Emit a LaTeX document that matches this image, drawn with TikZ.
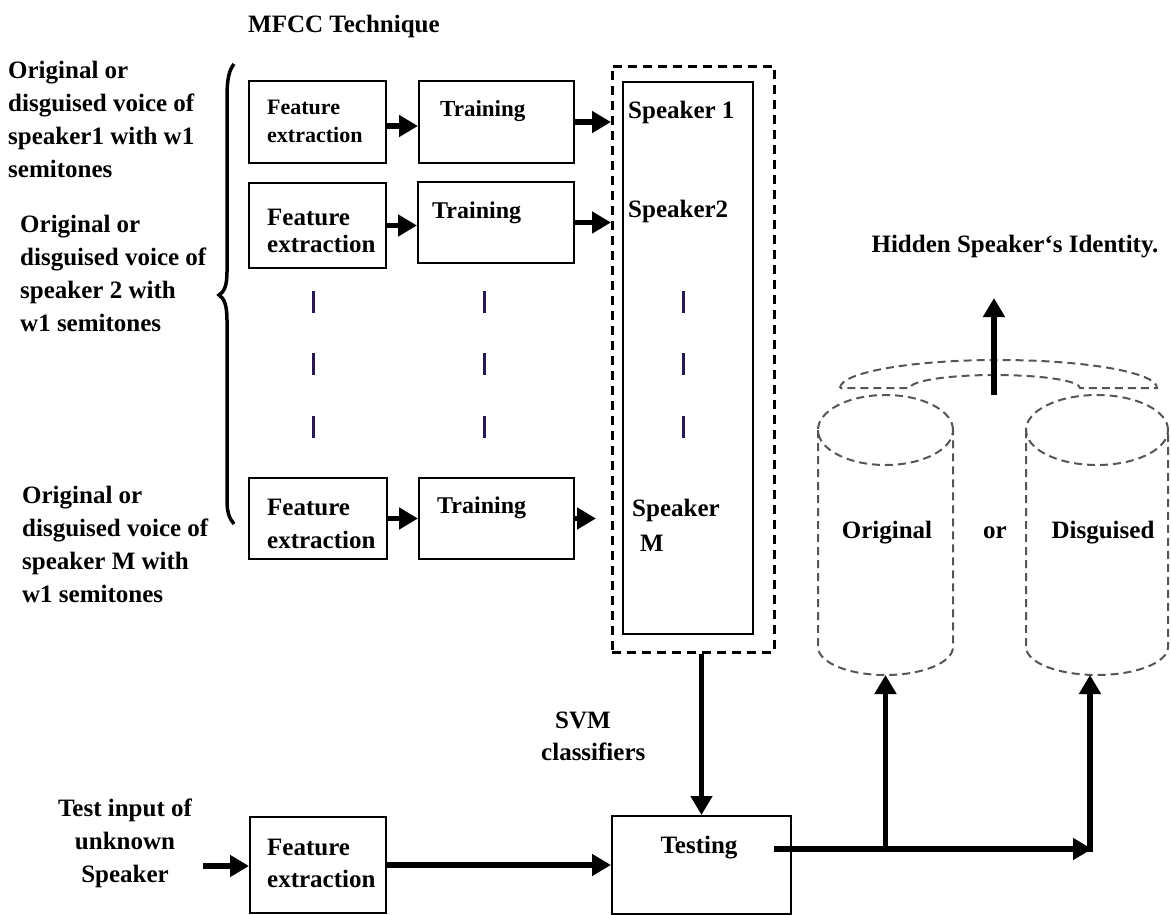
\documentclass[tikz,border=0pt]{standalone}
\usepackage{fontspec}
\setmainfont{Liberation Serif}
\usetikzlibrary{arrows.meta,calc}
\newcommand\myfs[2]{\fontsize{#1}{#2}\selectfont\bfseries}
\definecolor{barc}{RGB}{40,25,80}
\definecolor{cylc}{RGB}{85,85,85}
\begin{document}
\begin{tikzpicture}[x=1pt,y=-1pt,
  box/.style={draw, line width=2pt, rectangle, inner sep=0pt, anchor=north west},
  dbox/.style={draw, line width=2.5pt, dash pattern=on 9pt off 6pt, rectangle, inner sep=0pt, anchor=north west},
  txt/.style={inner sep=0pt, align=left, anchor=north west, font=\myfs{25}{33}},
  arr/.style={line width=5.5pt, -{Triangle[length=19pt,width=21pt]}},
  cyl/.style={draw=cylc, line width=2pt, dash pattern=on 8pt off 5pt},
  bar/.style={draw=barc, line width=3pt}]
\useasboundingbox (0,0) rectangle (1171,914);

% title
\node[txt, anchor=base west] (title) at (248,32) {MFCC Technique};

% input descriptions
\node[txt] (l1) at (8,61) {Original or\\disguised voice of\\speaker1 with w1\\semitones};
\node[txt] (l2) at (20,215) {Original or\\disguised voice of\\speaker 2 with\\w1 semitones};
\node[txt] (l3) at (22,486) {Original or\\disguised voice of\\speaker M with\\w1 semitones};

% grouping brace
\draw[line width=3.5pt] (234,64) .. controls (229,70) and (227,80) .. (227,96)
  -- (227,272) .. controls (227,286) and (224,292) .. (219,295)
  .. controls (224,298) and (227,305) .. (227,320)
  -- (227,500) .. controls (227,512) and (229,518) .. (234,524);

% feature extraction and training boxes
\node[box, minimum width=137pt, minimum height=82pt] (fe1) at (248,80) {};
\node[box, minimum width=155pt, minimum height=82pt] (tr1) at (418,80) {};
\node[box, minimum width=137pt, minimum height=85pt] (fe2) at (248,182) {};
\node[box, minimum width=156pt, minimum height=81pt] (tr2) at (417,181) {};
\node[box, minimum width=138pt, minimum height=81pt] (fe3) at (248,477) {};
\node[box, minimum width=155pt, minimum height=81pt] (tr3) at (418,477) {};

\node[txt, font=\myfs{22}{28}] (tfe1) at (267,100) {Feature\\extraction};
\node[txt, font=\myfs{23}{28}] (ttr1) at (440,100) {Training};
\node[txt, font=\myfs{25}{27}] (tfe2) at (267,208.5) {Feature\\extraction};
\node[txt, font=\myfs{24}{28}] (ttr2) at (432,202) {Training};
\node[txt, font=\myfs{25}{33}] (tfe3) at (267,498.5) {Feature\\extraction};
\node[txt, font=\myfs{24}{28}] (ttr3) at (437,497) {Training};

% speaker models
\node[dbox, minimum width=162pt, minimum height=586pt] (spk) at (611,65) {};
\node[box, minimum width=130pt, minimum height=552pt] (spkin) at (622,81) {};
\node[txt, anchor=base west] (s1) at (628,118) {Speaker 1};
\node[txt, anchor=base west] (s2) at (628,217) {Speaker2};
\node[txt, font=\myfs{25}{35}] (sm) at (632,499) {Speaker\\\hspace{8pt}M};

% continuation marks
\foreach \xx in {313,484,683}
  \foreach \yy in {302,364,427}
    \draw[bar] (\xx,\yy-11) -- (\xx,\yy+11);

% training arrows
\draw[arr] ([yshift=-4pt]fe1.east) -- ([yshift=-4pt]fe1.east -| tr1.west);
\draw[arr] (tr1.east) -- (tr1.east -| spk.west);
\draw[arr] (fe2.east) -- (fe2.east -| tr2.west);
\draw[arr] (tr2.east) -- (tr2.east -| spk.west);
\draw[arr] (fe3.east) -- (fe3.east -| tr3.west);
\draw[arr] (tr3.east) -- ([xshift=-15pt]tr3.east -| spk.west);

% testing stage
\node[box, minimum width=136pt, minimum height=96pt] (fe4) at (249,816) {};
\node[box, minimum width=179pt, minimum height=98pt] (test) at (611,815) {};
\node[txt, font=\myfs{25}{32}] (tfe4) at (267,838.5) {Feature\\extraction};
\node[txt, anchor=base] (ttest) at (699,853) {Testing};
\node[txt, font=\myfs{25}{32}] (svm) at (541,711.5) {\hspace{14pt}SVM\\classifiers};
\node[txt, align=center, anchor=north] (tin) at (125,798.5) {Test input of\\unknown\\Speaker};

\coordinate (inp) at (203,866);
\draw[arr] (inp) -- (inp -| fe4.west);
\draw[arr] (fe4.east) -- (test.west);
\draw[arr] (spk.south -| test.north) -- (test.north);

% result stores
\draw[cyl] (885.5,430) ellipse [x radius=67.5pt, y radius=35pt];
\draw[cyl] (818,430) -- (818,647) arc[start angle=180, end angle=360, x radius=67.5pt, y radius=28pt] -- (953,430);
\draw[cyl] (1097,430) ellipse [x radius=71pt, y radius=35pt];
\draw[cyl] (1026,430) -- (1026,647) arc[start angle=180, end angle=360, x radius=71pt, y radius=28pt] -- (1168,430);
\draw[cyl] (840,388) arc[start angle=180, end angle=0, x radius=158.5pt, y radius=28pt]
  -- (1080,388) arc[start angle=0, end angle=180, x radius=85pt, y radius=13pt] -- cycle;

\node[txt, anchor=base] (orig) at (887,538) {Original};
\node[txt, anchor=base] (or) at (995,538) {or};
\node[txt, anchor=base] (disg) at (1103,538) {Disguised};

\coordinate (cylL) at (885.5,675);
\coordinate (cylR) at (1090,675);
\coordinate (tout) at (774,849);
\coordinate (jL) at (885.5,849);
\coordinate (jR) at (1092,849);
\draw[arr] (tout) -- (jR);
\draw[arr] ([yshift=-3pt]jL) -- (cylL);
\draw[arr] ([yshift=-3pt]jR -| cylR) -- (cylR);

% identity output
\node[txt, anchor=base] (hid) at (1015,252) {Hidden Speaker‘s Identity.};
\coordinate (topc) at (994,395);
\draw[arr] (topc) -- (topc |- 0,298);
\end{tikzpicture}
\end{document}
